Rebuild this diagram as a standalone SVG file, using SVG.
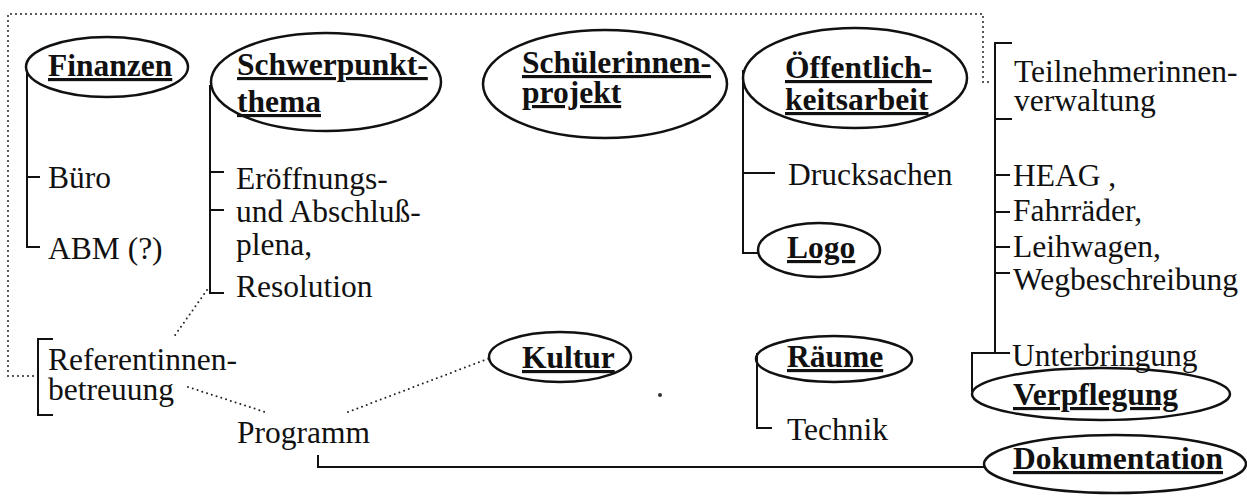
<svg xmlns="http://www.w3.org/2000/svg" width="1247" height="496" viewBox="0 0 1247 496" font-family="'Liberation Serif', Tinos, 'Times New Roman', Times, 'DejaVu Serif', serif">
<style>
text{font-family:'Liberation Serif',Tinos,'Times New Roman',Times,'DejaVu Serif',serif;font-size:31.5px;fill:#111}
.b{font-weight:bold;text-decoration:underline}
.ov{fill:none;stroke:#111;stroke-width:2.5}
.ln{fill:none;stroke:#111;stroke-width:2}
.dot{fill:none;stroke:#222;stroke-width:2;stroke-linecap:round;stroke-dasharray:0 5}
</style>
<rect width="1247" height="496" fill="#fff"/>
<g id="connectors">
<path class="dot" d="M33,376 H8 V14 H983 V82 H992"/>
<path class="dot" d="M207,290 L173,338"/>
<path class="dot" d="M188,387 L265,412"/>
<path class="dot" d="M348,412 L490,358"/>
<path class="ln" d="M27,70 V247 H40 M27,177 H40"/>
<path class="ln" d="M210,85 V293 H224 M210,172 H224 M210,210 H224"/>
<path class="ln" d="M743,70 V253 H758 M743,173 H775"/>
<path class="ln" d="M1012,43 H995 V353 H1010 M995,119 H1012 M995,175 H1010 M995,212 H1010 M995,247 H1010 M995,273 H1010"/>
<path class="ln" d="M995,353 H972 V392"/>
<path class="ln" d="M53,339 H38 V415 H53"/>
<path class="ln" d="M757,353 V428 H772"/>
<path class="ln" d="M318,455 V467 H985"/>
</g>
<g id="finanzen"><ellipse class="ov" cx="107" cy="67" rx="81" ry="30"/><text class="b" x="48" y="76">Finanzen</text></g>
<g id="buero"><text x="48" y="188">Büro</text></g>
<g id="abm"><text x="48" y="259">ABM (?)</text></g>
<g id="schwerpunkt"><ellipse class="ov" cx="326" cy="82" rx="115" ry="49"/><text class="b" x="237" y="75">Schwerpunkt-</text><text class="b" x="237" y="112">thema</text></g>
<g id="plena"><text x="236" y="189">Eröffnungs-</text><text x="236" y="222">und Abschluß-</text><text x="236" y="255">plena,</text><text x="236" y="297">Resolution</text></g>
<g id="schuelerinnen"><ellipse class="ov" cx="605" cy="84" rx="122" ry="54"/><text class="b" x="522" y="73">Schülerinnen-</text><text class="b" x="522" y="103">projekt</text></g>
<g id="oeffentlichkeit"><ellipse class="ov" cx="855" cy="78" rx="112" ry="50"/><text class="b" x="785" y="78">Öffentlich-</text><text class="b" x="785" y="110">keitsarbeit</text></g>
<g id="drucksachen"><text x="788" y="185">Drucksachen</text></g>
<g id="logo"><ellipse class="ov" cx="819" cy="250" rx="61" ry="27"/><text class="b" x="787" y="258">Logo</text></g>
<g id="teilnehmer"><text x="1014" y="82">Teilnehmerinnen-</text><text x="1014" y="111">verwaltung</text></g>
<g id="mobil"><text x="1013" y="186">HEAG ,</text><text x="1013" y="221">Fahrräder,</text><text x="1013" y="257">Leihwagen,</text><text x="1013" y="290">Wegbeschreibung</text></g>
<g id="unterbringung"><text x="1012" y="366">Unterbringung</text></g>
<g id="verpflegung"><ellipse class="ov" cx="1101" cy="394" rx="129" ry="26"/><text class="b" x="1013" y="405">Verpflegung</text></g>
<g id="dokumentation"><ellipse class="ov" cx="1115" cy="464" rx="131" ry="29"/><text class="b" x="1013" y="469">Dokumentation</text></g>
<g id="referentinnen"><text x="48" y="370">Referentinnen-</text><text x="48" y="400">betreuung</text></g>
<g id="programm"><text x="237" y="443">Programm</text></g>
<g id="kultur"><ellipse class="ov" cx="560" cy="357" rx="71" ry="25"/><text class="b" x="522" y="368">Kultur</text></g>
<g id="raeume"><ellipse class="ov" cx="834" cy="359" rx="78" ry="23"/><text class="b" x="787" y="367">Räume</text></g>
<g id="technik"><text x="787" y="440">Technik</text></g>
<circle cx="660" cy="395" r="2" fill="#333"/>
</svg>
